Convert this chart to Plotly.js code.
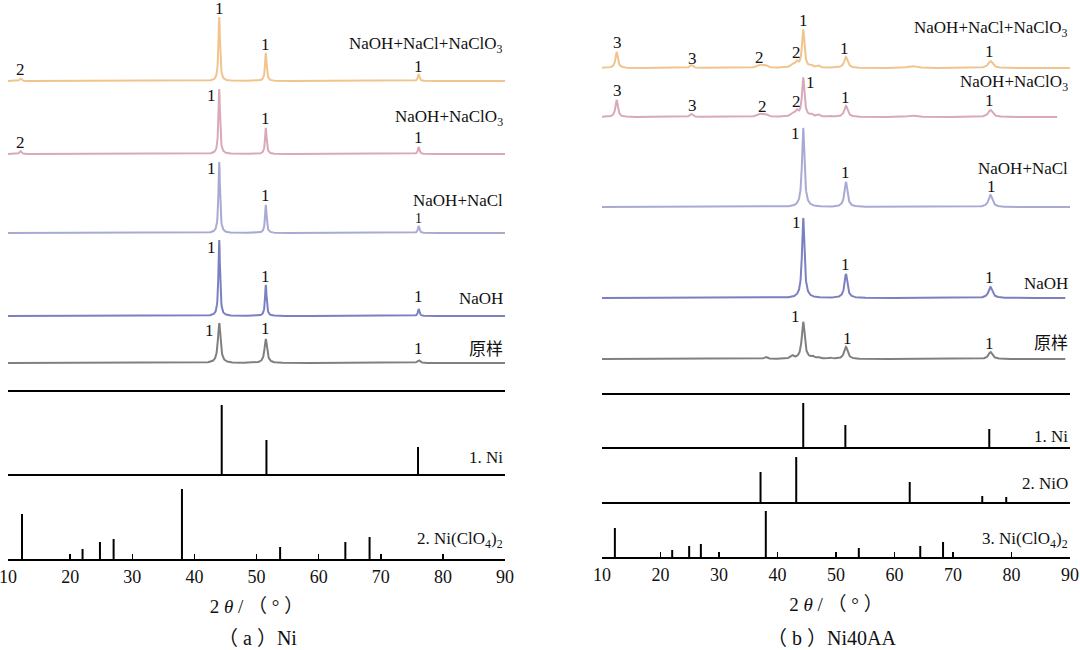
<!DOCTYPE html>
<html>
<head>
<meta charset="utf-8">
<script src="https://cdn.plot.ly/plotly-3.0.1.min.js"></script>
<style>
  body { margin: 0; background: #fff; }
  #myDiv { width: 1080px; height: 650px; }
</style>
</head>
<body>
<div id="myDiv"></div>
<script>
// ---- data (2theta in degrees, intensity in arbitrary units) ----
var tickVals = [10, 20, 30, 40, 50, 60, 70, 80, 90];

// (a) Ni : measured patterns, peak positions / heights
var aRawPos = [44.0, 51.5, 76.1];
var aRawH = [40, 24, 3];
var aNaOHPos = [44.0, 51.5, 76.1];
var aNaOHH = [76, 31, 7];
var aNaClPos = [44.0, 51.5, 76.1];
var aNaClH = [71, 28, 7];
var aClO3Pos = [12.0, 44.0, 51.5, 76.1];
var aClO3H = [3, 65, 26, 7];
var aAllPos = [12.0, 44.0, 51.5, 76.1];
var aAllH = [2.5, 64, 28, 7];

// (a) reference cards
var aNiRefPos = [44.4, 51.6, 76.0];
var aNiRefH = [70, 35, 28];
var aClO4RefPos = [12.25, 22.0, 24.8, 27.0, 38.0, 53.8, 64.3, 68.2];
var aClO4RefH = [45, 10, 17, 20, 70, 12, 17, 22];

// (b) Ni40AA : measured patterns
var bRawPos = [38.0, 42.5, 44.4, 46.0, 47.0, 49.0, 51.7, 76.4];
var bRawH = [2, 3, 37, 2, 1.5, 1, 12, 7];
var bNaOHPos = [44.4, 51.7, 76.4];
var bNaOHH = [80, 24, 11];
var bNaClPos = [44.4, 51.7, 76.4];
var bNaClH = [79, 25, 12];
var bClO3Pos = [12.5, 25.3, 37.0, 38.0, 42.6, 43.3, 44.4, 45.8, 47.0, 49.0, 51.7, 63.0, 76.4];
var bClO3H = [17, 3, 3, 2, 3, 5, 39, 2, 2, 1, 11, 1.5, 7];
var bAllPos = [12.5, 25.3, 37.0, 38.0, 42.6, 43.3, 44.4, 45.8, 47.0, 51.7, 63.0, 76.4];
var bAllH = [16, 3, 3, 2, 3, 5, 38, 2, 2, 11, 2, 7];

// (b) reference cards
var bNiRefPos = [44.4, 51.6, 76.2];
var bNiRefH = [45, 23, 19];
var bNiORefPos = [37.1, 43.2, 62.6, 75.0, 79.1];
var bNiORefH = [31, 46, 21, 7, 6];
var bClO4RefPos = [12.2, 22.0, 24.9, 26.9, 38.0, 53.9, 64.4, 68.3];
var bClO4RefH = [29, 7, 11, 13, 46, 9, 11, 15];

// ---- drawing helpers ----
var FONT = 'Liberation Serif, Times New Roman, Noto Sans CJK SC, serif';

// line through the peaks of one pattern, lifted to its own baseline
const pattern = (pos, h, hw, base, xEnd, color, xa, ya) => {
    var x = [], y = [];
    for (var i = 0; i <= 1600; i++) {
        var tt = 10 + i * 0.05;
        if (tt > xEnd + 1e-9) break;
        var v = base;
        for (var k = 0; k < pos.length; k++) {
            var w = Array.isArray(hw) ? hw[k] : hw;
            var d = (tt - pos[k]) / w;
            v += h[k] / (1 + d * d);
        }
        x.push(+tt.toFixed(2));
        y.push(v);
    }
    return { x: x, y: y, type: 'scatter', mode: 'lines', xaxis: xa, yaxis: ya,
             line: { color: color, width: 2 }, hoverinfo: 'skip', showlegend: false };
}

// stick pattern for a reference card
const sticks = (pos, h, base, xa, ya) => {
    var x = [], y = [];
    for (var k = 0; k < pos.length; k++) {
        x.push(pos[k], pos[k], null);
        y.push(base, base + h[k], null);
    }
    return { x: x, y: y, type: 'scatter', mode: 'lines', xaxis: xa, yaxis: ya,
             line: { color: 'black', width: 2 }, hoverinfo: 'skip', showlegend: false };
}

const hline = (yv, xa, ya) => {
    return { x: [10, 90], y: [yv, yv], type: 'scatter', mode: 'lines', xaxis: xa, yaxis: ya,
             line: { color: 'black', width: 2 }, hoverinfo: 'skip', showlegend: false };
}

var cOrange = '#f2c48d';
var cPink = '#d9a9b9';
var cLav = '#a8aad3';
var cBlue = '#7b80c0';
var cGray = '#808080';

var data = [
    // panel a
    pattern(aRawPos, aRawH, 0.25, 196, 90, cGray, 'x', 'y'),
    pattern(aNaOHPos, aNaOHH, 0.15, 243, 90, cBlue, 'x', 'y'),
    pattern(aNaClPos, aNaClH, 0.15, 326, 90, cLav, 'x', 'y'),
    pattern(aClO3Pos, aClO3H, [0.2, 0.15, 0.15, 0.15], 405, 90, cPink, 'x', 'y'),
    pattern(aAllPos, aAllH, [0.2, 0.15, 0.15, 0.15], 478, 90, cOrange, 'x', 'y'),
    hline(168, 'x', 'y'),
    hline(84, 'x', 'y'),
    sticks(aNiRefPos, aNiRefH, 84, 'x', 'y'),
    sticks(aClO4RefPos, aClO4RefH, 0, 'x', 'y'),
    // panel b
    pattern(bRawPos, bRawH, [0.3, 0.3, 0.3, 0.3, 0.3, 0.3, 0.35, 0.4], 198, 89.2, cGray, 'x2', 'y2'),
    pattern(bNaOHPos, bNaOHH, [0.25, 0.3, 0.4], 259, 89.2, cBlue, 'x2', 'y2'),
    pattern(bNaClPos, bNaClH, [0.25, 0.3, 0.4], 350, 90, cLav, 'x2', 'y2'),
    pattern(bClO3Pos, bClO3H, [0.25, 0.3, 0.6, 0.4, 0.4, 0.3, 0.25, 0.3, 0.3, 0.3, 0.35, 0.8, 0.45], 440, 87.8, cPink, 'x2', 'y2'),
    pattern(bAllPos, bAllH, [0.25, 0.3, 0.6, 0.4, 0.4, 0.3, 0.25, 0.3, 0.3, 0.35, 0.8, 0.45], 489, 90, cOrange, 'x2', 'y2'),
    hline(163, 'x2', 'y2'),
    hline(109, 'x2', 'y2'),
    hline(54, 'x2', 'y2'),
    sticks(bNiRefPos, bNiRefH, 109, 'x2', 'y2'),
    sticks(bNiORefPos, bNiORefH, 54, 'x2', 'y2'),
    sticks(bClO4RefPos, bClO4RefH, 0, 'x2', 'y2')
];

// ---- labels ----
var ann = [];
const lbl = (xa, ya, x, y, text, size, anchor) => {
    ann.push({ xref: xa, yref: ya, x: x, y: y, text: text, showarrow: false,
               font: { family: FONT, size: size || 17, color: '#111' },
               xanchor: anchor || 'center', yanchor: 'middle' });
}
const name = (xa, ya, y, text) => lbl(xa, ya, 90, y, text, 17, 'right');

// panel a peak marks
lbl('x', 'y', 44.0, 551, '1'); lbl('x', 'y', 51.5, 515, '1'); lbl('x', 'y', 76.1, 493, '1'); lbl('x', 'y', 12.0, 490, '2');
name('x', 'y', 514, 'NaOH+NaCl+NaClO<sub>3</sub>');
lbl('x', 'y', 42.8, 464, '1'); lbl('x', 'y', 51.5, 441, '1'); lbl('x', 'y', 76.1, 422, '1'); lbl('x', 'y', 12.0, 417, '2');
name('x', 'y', 441, 'NaOH+NaClO<sub>3</sub>');
lbl('x', 'y', 42.7, 391, '1'); lbl('x', 'y', 51.5, 364, '1'); lbl('x', 'y', 76.1, 341, '1', 14);
name('x', 'y', 359, 'NaOH+NaCl');
lbl('x', 'y', 42.7, 312, '1'); lbl('x', 'y', 51.5, 283, '1'); lbl('x', 'y', 76.1, 263, '1');
name('x', 'y', 261, 'NaOH');
lbl('x', 'y', 42.5, 229, '1'); lbl('x', 'y', 51.5, 231, '1'); lbl('x', 'y', 76.1, 211, '1');
name('x', 'y', 210, '原样');
name('x', 'y', 102, '1. Ni');
name('x', 'y', 19, '2. Ni(ClO<sub>4</sub>)<sub>2</sub>');

// panel b peak marks
name('x2', 'y2', 528, 'NaOH+NaCl+NaClO<sub>3</sub>');
lbl('x2', 'y2', 44.4, 537, '1'); lbl('x2', 'y2', 12.6, 515, '3'); lbl('x2', 'y2', 25.4, 499, '3');
lbl('x2', 'y2', 37.0, 500, '2'); lbl('x2', 'y2', 43.2, 505, '2'); lbl('x2', 'y2', 51.5, 509, '1'); lbl('x2', 'y2', 76.2, 506, '1');
name('x2', 'y2', 474, 'NaOH+NaClO<sub>3</sub>');
lbl('x2', 'y2', 12.7, 467, '3'); lbl('x2', 'y2', 25.4, 452, '3'); lbl('x2', 'y2', 37.4, 451, '2');
lbl('x2', 'y2', 43.2, 456, '2'); lbl('x2', 'y2', 45.7, 475, '1'); lbl('x2', 'y2', 51.7, 460, '1'); lbl('x2', 'y2', 76.2, 457, '1');
name('x2', 'y2', 389, 'NaOH+NaCl');
lbl('x2', 'y2', 43.0, 424, '1'); lbl('x2', 'y2', 51.7, 385, '1'); lbl('x2', 'y2', 76.5, 371, '1');
name('x2', 'y2', 274, 'NaOH');
lbl('x2', 'y2', 43.3, 335, '1'); lbl('x2', 'y2', 51.7, 293, '1'); lbl('x2', 'y2', 76.3, 280, '1');
name('x2', 'y2', 214, '原样');
lbl('x2', 'y2', 43.0, 241, '1'); lbl('x2', 'y2', 52.0, 219, '1'); lbl('x2', 'y2', 76.3, 214, '1');
name('x2', 'y2', 121, '1. Ni');
name('x2', 'y2', 74, '2. NiO');
name('x2', 'y2', 17, '3. Ni(ClO<sub>4</sub>)<sub>2</sub>');

// captions
ann.push({ xref: 'paper', yref: 'paper', x: 257 / 1080, y: 1 - 638 / 650, text: '（ a ）Ni', showarrow: false,
           font: { family: FONT, size: 20, color: '#111' }, xanchor: 'center', yanchor: 'middle' });
ann.push({ xref: 'paper', yref: 'paper', x: 831 / 1080, y: 1 - 638 / 650, text: '（ b ）Ni40AA', showarrow: false,
           font: { family: FONT, size: 20, color: '#111' }, xanchor: 'center', yanchor: 'middle' });

var xCommon = {
    range: [10, 90],
    tickvals: tickVals,
    ticks: 'inside',
    ticklen: 5,
    tickwidth: 1.5,
    tickcolor: 'black',
    ticklabeloverflow: 'allow',
    showline: true,
    linecolor: 'black',
    linewidth: 2,
    showgrid: false,
    zeroline: false,
    tickfont: { family: FONT, size: 18, color: '#111' },
    title: { text: '2 <i>θ</i> / （ ° ）', font: { family: FONT, size: 19, color: '#111' }, standoff: 14 }
};

var yCommon = { showgrid: false, zeroline: false, showticklabels: false, showline: false, ticks: '' };

var layout = {
    width: 1080,
    height: 650,
    margin: { t: 0, b: 0, l: 0, r: 0 },
    paper_bgcolor: 'white',
    plot_bgcolor: 'white',
    showlegend: false,
    font: { family: FONT },
    xaxis: Object.assign({}, xCommon, { domain: [8 / 1080, 505 / 1080], anchor: 'y' }),
    yaxis: Object.assign({}, yCommon, { domain: [91 / 650, 1], range: [0, 559], anchor: 'x' }),
    xaxis2: Object.assign({}, xCommon, { domain: [602 / 1080, 1070 / 1080], anchor: 'y2' }),
    yaxis2: Object.assign({}, yCommon, { domain: [93 / 650, 1], range: [0, 557], anchor: 'x2' }),
    annotations: ann
};

Plotly.newPlot('myDiv', data, layout, { staticPlot: true });
</script>
</body>
</html>
